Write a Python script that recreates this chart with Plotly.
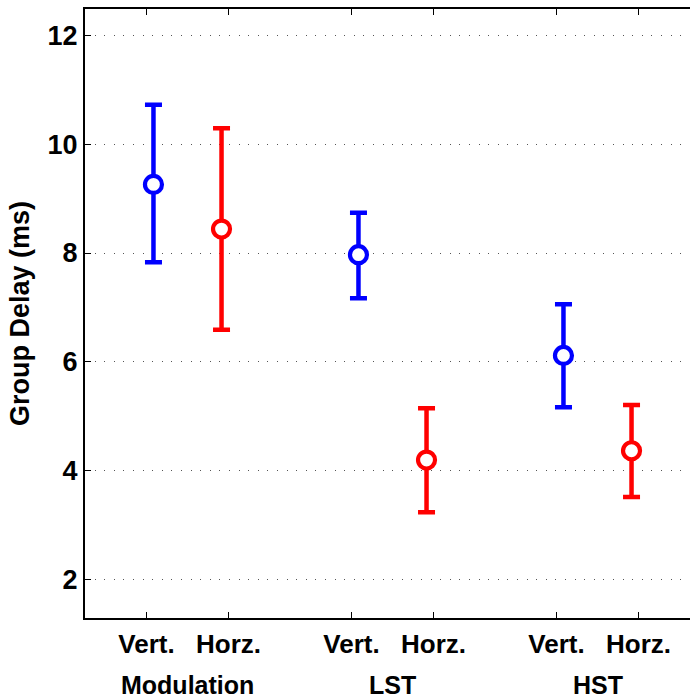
import plotly.graph_objects as go

# Group delay per stimulus type and orientation (ms): mean with upper/lower bounds
groups = ["Modulation", "LST", "HST"]
orient_labels = ["Vert.", "Horz."]

vert_mean = [9.26, 7.97, 6.12]
vert_upper = [10.72, 8.74, 7.06]
vert_lower = [7.83, 7.17, 5.17]

horz_mean = [8.44, 4.20, 4.37]
horz_upper = [10.29, 5.15, 5.21]
horz_lower = [6.59, 3.24, 3.52]

y_ticks = [2, 4, 6, 8, 10, 12]

# layout of the categorical x positions
group_pos = [1, 2, 3]
pair_gap = 0.4
nudge = 0.034

tick_vals = []
tick_text = []
for g in group_pos:
    tick_vals += [g, g + pair_gap]
    tick_text += orient_labels

font_family = "Liberation Sans, Arial, sans-serif"


def err_trace(x, mean, upper, lower, color):
    return go.Scatter(
        x=x,
        y=mean,
        mode="markers",
        marker=dict(symbol="circle", size=17, color="white",
                    line=dict(color=color, width=4.2)),
        error_y=dict(
            type="data",
            symmetric=False,
            array=[u - m for u, m in zip(upper, mean)],
            arrayminus=[m - l for m, l in zip(mean, lower)],
            color=color,
            thickness=4.5,
            width=8.5,
        ),
        showlegend=False,
        hoverinfo="skip",
    )


fig = go.Figure()
fig.add_trace(err_trace([g + nudge for g in group_pos], vert_mean, vert_upper, vert_lower, "#0000FF"))
fig.add_trace(err_trace([g + pair_gap - nudge for g in group_pos], horz_mean, horz_upper, horz_lower, "#FF0000"))

for g, name in zip(group_pos, groups):
    fig.add_annotation(
        x=g + pair_gap / 2, y=0, xref="x", yref="paper",
        text=f"<b>{name}</b>", showarrow=False,
        yanchor="middle", yshift=-67,
        font=dict(family=font_family, size=25, color="black"),
    )

fig.update_layout(
    width=690,
    height=699,
    margin=dict(l=85, r=0, t=9, b=81),
    paper_bgcolor="white",
    plot_bgcolor="white",
    font=dict(family=font_family, color="black"),
)

fig.update_xaxes(
    range=[0.7, 0.7 + 605 / 205],
    tickvals=tick_vals,
    ticktext=[f"<b>{t}</b>" for t in tick_text],
    tickfont=dict(size=26, color="black"),
    ticks="inside",
    ticklen=6,
    tickwidth=1,
    tickcolor="black",
    showline=True,
    linecolor="black",
    linewidth=2,
    mirror="ticks",
    showgrid=False,
    zeroline=False,
    ticklabelstandoff=2,
)

fig.update_yaxes(
    range=[1.3, 12.48],
    tickvals=y_ticks,
    ticktext=[f"<b>{v}</b>" for v in y_ticks],
    tickfont=dict(size=27, color="black"),
    ticks="inside",
    ticklen=6,
    tickwidth=1,
    tickcolor="black",
    showline=True,
    linecolor="black",
    linewidth=2,
    mirror=False,
    showgrid=True,
    gridcolor="#555555",
    gridwidth=1,
    griddash="1px,8.6px",
    zeroline=False,
    title=dict(text="<b>Group Delay (ms)</b>", font=dict(size=27, color="black"), standoff=10),
)

fig.write_html("out.html")
